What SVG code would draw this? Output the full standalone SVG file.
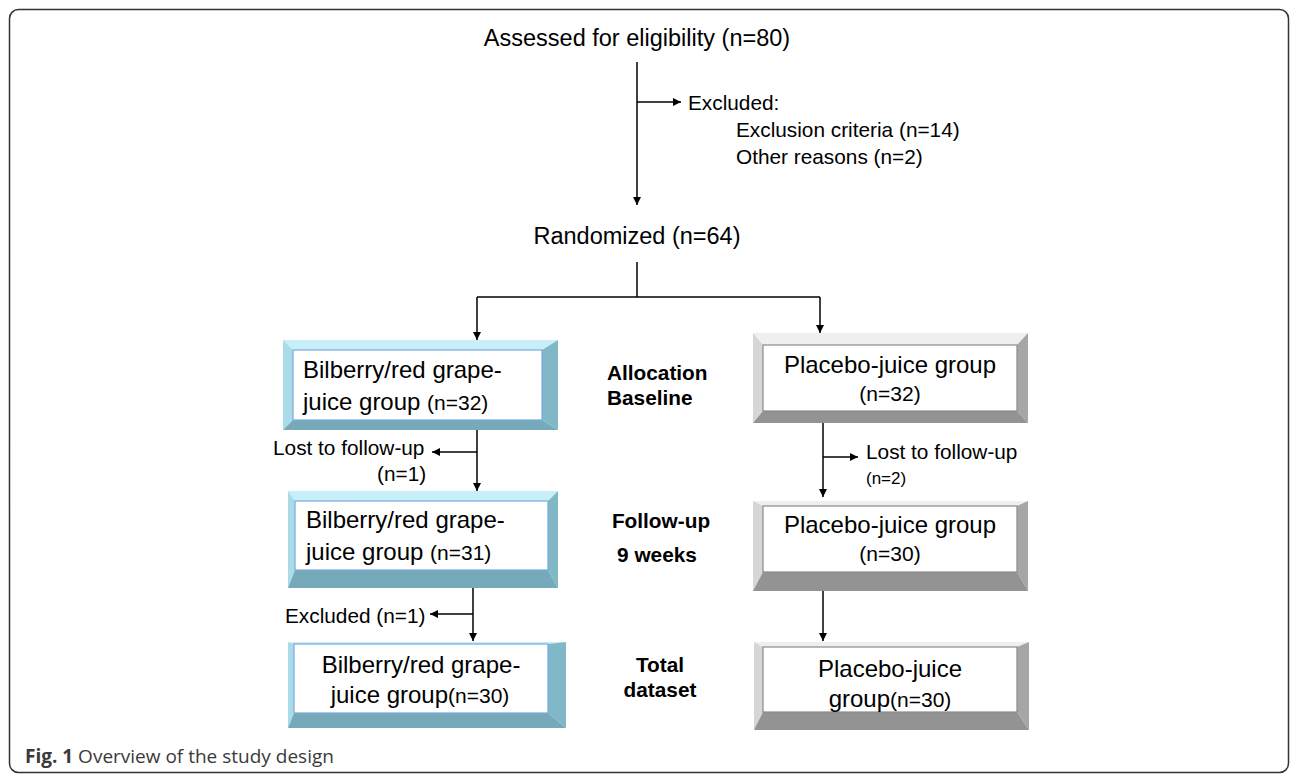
<svg xmlns="http://www.w3.org/2000/svg" width="1290" height="776" viewBox="0 0 1290 776">
<defs>
<marker id="ah" viewBox="0 0 10 10" refX="10" refY="5" markerWidth="9" markerHeight="8" markerUnits="userSpaceOnUse" orient="auto">
<path d="M0,0 L10,5 L0,10 z" fill="#000"/>
</marker>
</defs>
<style>
text{font-family:"Liberation Sans",Arial,sans-serif;fill:#000}
.t23{font-size:23.5px}
.t20{font-size:20.8px}
.t24{font-size:24px}
.t21{font-size:21px}
.t17{font-size:17px}
.b{font-size:20.8px;font-weight:bold}
.c{text-anchor:middle}
.ln{stroke:#000;stroke-width:1.5;fill:none}
.arr{marker-end:url(#ah)}
.bt{fill:#c8eef7}.bl{fill:#a9dbe8}.br{fill:#80b8c8}.bb{fill:#76aabb}
.gt{fill:#efefef}.gl{fill:#d6d6d6}.gr{fill:#a6a6a6}.gb{fill:#939393}
.wi{fill:#fff;stroke:#7aa8e0;stroke-width:1.2}
.wg{fill:#fff;stroke:#8a8a8a;stroke-width:1.2}
.cap{font-family:"Open Sans","Noto Sans",sans-serif;font-size:19px;fill:#3a3a3a}
</style>
<rect x="9.5" y="9.5" width="1279" height="763" rx="9" fill="#fff" stroke="#333" stroke-width="1.5"/>

<g id="assessed">
<text class="t23 c" x="637" y="46">Assessed for eligibility (n=80)</text>
</g>
<g id="excluded1">
<text class="t20" x="688" y="110">Excluded:</text>
<text class="t20" x="736" y="137">Exclusion criteria (n=14)</text>
<text class="t20" x="736" y="164">Other reasons (n=2)</text>
</g>
<g id="randomized">
<text class="t23 c" x="637" y="244">Randomized (n=64)</text>
</g>

<g id="bil1">
<polygon class="bt" points="283,340 558,340 542,350 293,350"/>
<polygon class="bl" points="283,340 293,350 293,420 283,430"/>
<polygon class="br" points="558,340 558,430 542,420 542,350"/>
<polygon class="bb" points="283,430 293,420 542,420 558,430"/>
<rect class="wi" x="293" y="350" width="249" height="70"/>
<text class="t24" x="303" y="378">Bilberry/red grape-</text>
<text class="t24" x="303" y="410">juice group <tspan class="t21">(n=32)</tspan></text>
</g>

<g id="bil2">
<polygon class="bt" points="288,491 558,491 548,501 295,501"/>
<polygon class="bl" points="288,491 295,501 295,570 288,588"/>
<polygon class="br" points="558,491 558,588 548,570 548,501"/>
<polygon class="bb" points="288,588 295,570 548,570 558,588"/>
<rect class="wi" x="295" y="501" width="253" height="69"/>
<text class="t24" x="306" y="528">Bilberry/red grape-</text>
<text class="t24" x="306" y="560">juice group <tspan class="t21">(n=31)</tspan></text>
</g>

<g id="bil3">
<polygon class="bt" points="288,642 566,642 548,644 294,644"/>
<polygon class="bl" points="288,642 294,644 294,713 288,728"/>
<polygon class="br" points="566,642 566,728 548,713 548,644"/>
<polygon class="bb" points="288,728 294,713 548,713 566,728"/>
<rect class="wi" x="294" y="644" width="254" height="69"/>
<text class="t24 c" x="421" y="673">Bilberry/red grape-</text>
<text class="t24 c" x="420" y="703">juice group<tspan class="t21">(n=30)</tspan></text>
</g>

<g id="pla1">
<polygon class="gt" points="753,333 1028,333 1017,345 763,345"/>
<polygon class="gl" points="753,333 763,345 763,411 753,423"/>
<polygon class="gr" points="1028,333 1028,423 1017,411 1017,345"/>
<polygon class="gb" points="753,423 763,411 1017,411 1028,423"/>
<rect class="wg" x="763" y="345" width="254" height="66"/>
<text class="t24 c" x="890" y="373">Placebo-juice group</text>
<text class="t21 c" x="890" y="401">(n=32)</text>
</g>

<g id="pla2">
<polygon class="gt" points="753,501 1028,501 1017,506 763,506"/>
<polygon class="gl" points="753,501 763,506 763,572 753,591"/>
<polygon class="gr" points="1028,501 1028,591 1017,572 1017,506"/>
<polygon class="gb" points="753,591 763,572 1017,572 1028,591"/>
<rect class="wg" x="763" y="506" width="254" height="66"/>
<text class="t24 c" x="890" y="533">Placebo-juice group</text>
<text class="t21 c" x="890" y="561">(n=30)</text>
</g>

<g id="pla3">
<polygon class="gt" points="754,642 1029,642 1017,647 763,647"/>
<polygon class="gl" points="754,642 763,647 763,712 754,730"/>
<polygon class="gr" points="1029,642 1029,730 1017,712 1017,647"/>
<polygon class="gb" points="754,730 763,712 1017,712 1029,730"/>
<rect class="wg" x="763" y="647" width="254" height="65"/>
<text class="t24 c" x="890" y="677">Placebo-juice</text>
<text class="t24 c" x="890" y="707">group<tspan class="t21">(n=30)</tspan></text>
</g>

<g id="lost1">
<text class="t20" x="273" y="455">Lost to follow-up</text>
<text class="t20" x="377" y="481">(n=1)</text>
</g>
<g id="lost2">
<text class="t20" x="866" y="459">Lost to follow-up</text>
<text class="t17" x="866" y="484">(n=2)</text>
</g>
<g id="excluded2">
<text class="t20" x="285" y="623">Excluded (n=1)</text>
</g>

<g id="stage-labels">
<text class="b" x="607" y="380">Allocation</text>
<text class="b" x="607" y="405">Baseline</text>
<text class="b c" x="661" y="528">Follow-up</text>
<text class="b c" x="657" y="562">9 weeks</text>
<text class="b c" x="660" y="672">Total</text>
<text class="b c" x="660" y="697">dataset</text>
</g>

<g id="connectors">
<line class="ln arr" x1="637" y1="62" x2="637" y2="205"/>
<line class="ln arr" x1="637" y1="102" x2="681" y2="102"/>
<polyline class="ln" points="637,262 637,297"/>
<polyline class="ln" points="477,297 820,297"/>
<line class="ln arr" x1="477" y1="297" x2="477" y2="340"/>
<line class="ln arr" x1="820" y1="297" x2="820" y2="333"/>
<line class="ln arr" x1="477" y1="430" x2="477" y2="491"/>
<line class="ln arr" x1="477" y1="452" x2="432" y2="452"/>
<line class="ln arr" x1="823" y1="423" x2="823" y2="497"/>
<line class="ln arr" x1="823" y1="457" x2="858" y2="457"/>
<line class="ln arr" x1="473" y1="588" x2="473" y2="641"/>
<line class="ln arr" x1="473" y1="614" x2="430" y2="614"/>
<line class="ln arr" x1="823" y1="591" x2="823" y2="641"/>
</g>

<g id="caption">
<text class="cap" x="25" y="763"><tspan font-weight="bold">Fig. 1</tspan> Overview of the study design</text>
</g>
</svg>
